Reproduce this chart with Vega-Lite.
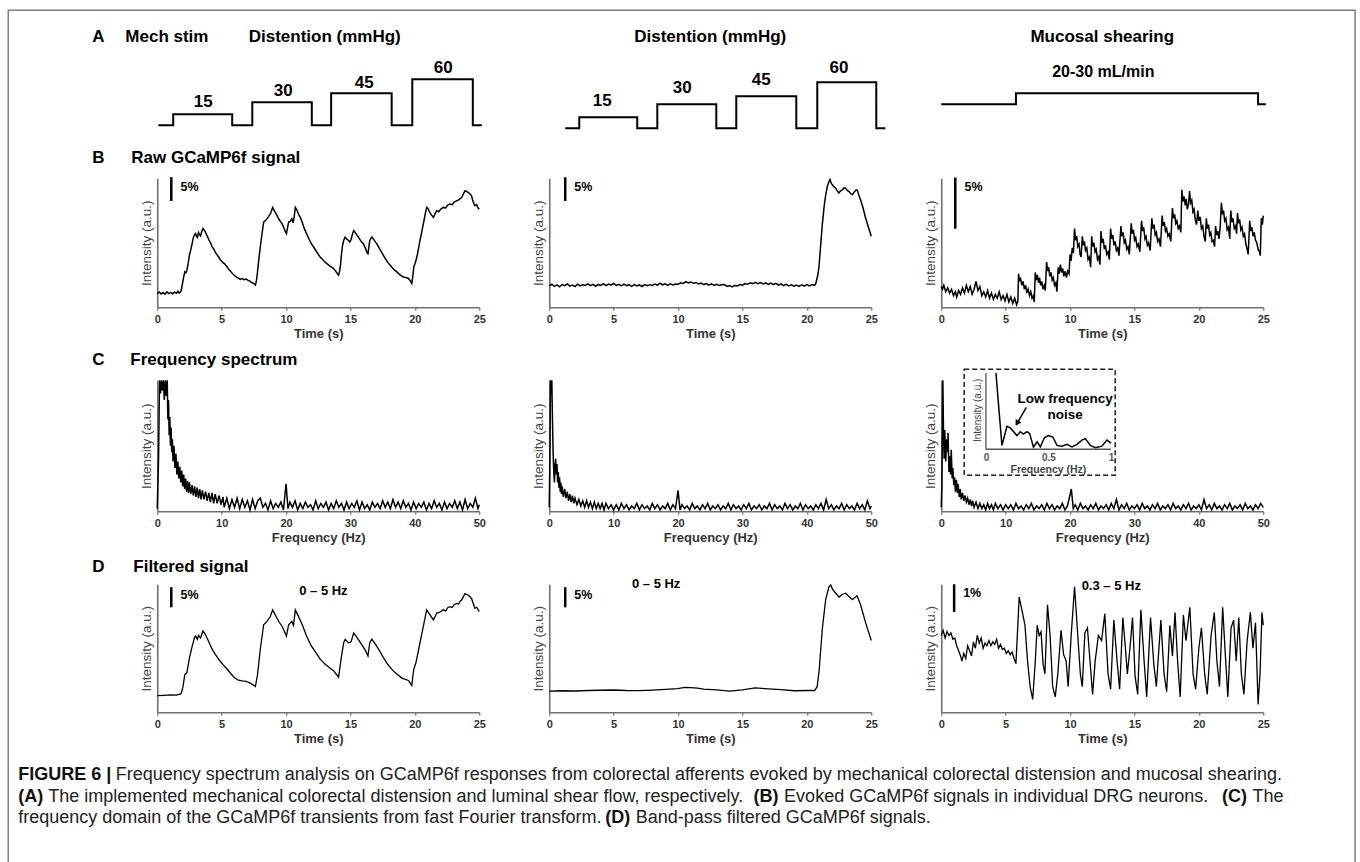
{
"$schema": "https://vega.github.io/schema/vega-lite/v6.json",
"background": "white",
"padding": {"left": 7.25, "top": 9.25, "right": 0, "bottom": 0},
"bounds": "flush",
"align": "each",
"columns": 3,
"spacing": {"row": 73, "column": 70},
"config": {
  "font": "Liberation Sans",
  "view": {"stroke": null},
  "axis": {"domainColor": "#707070", "domainWidth": 1.6, "tickColor": "#707070", "tickWidth": 1.2, "tickSize": 3, "labelFont": "Liberation Sans", "labelFontSize": 11, "labelFontWeight": "bold", "labelColor": "#333333", "titleFont": "Liberation Sans", "titleFontSize": 13, "titleFontWeight": "bold", "titleColor": "#333333", "grid": false, "labelPadding": 3, "titlePadding": 3, "labelFlush": false},
  "text": {"font": "Liberation Sans", "color": "black"}
},
"datasets": {
"frame": [{"x": -11.57, "x2": 93.0, "y": 118, "y2": -745}],
"stim": [
{"p":"A1","x":0.08,"y":3},{"p":"A1","x":1.24,"y":14},{"p":"A1","x":5.82,"y":3},{"p":"A1","x":7.38,"y":26},{"p":"A1","x":12.0,"y":3},{"p":"A1","x":13.5,"y":35},{"p":"A1","x":18.2,"y":3},{"p":"A1","x":19.8,"y":49},{"p":"A1","x":24.5,"y":3},{"p":"A1","x":25.2,"y":3},
{"p":"A2","x":1.24,"y":0},{"p":"A2","x":2.33,"y":11},{"p":"A2","x":6.83,"y":0},{"p":"A2","x":8.39,"y":24},{"p":"A2","x":12.97,"y":0},{"p":"A2","x":14.52,"y":32},{"p":"A2","x":19.18,"y":0},{"p":"A2","x":20.81,"y":46},{"p":"A2","x":25.39,"y":0},{"p":"A2","x":26.1,"y":0},
{"p":"A3","x":0,"y":24},{"p":"A3","x":5.8,"y":35},{"p":"A3","x":24.6,"y":24},{"p":"A3","x":25.2,"y":24}
],
"notes": [
{"p":"A1","k":"head","x":-5.05,"y":91,"s":"A"},{"p":"A1","k":"head","x":-2.48,"y":91,"s":"Mech stim"},{"p":"A1","k":"headc","x":13.0,"y":91,"s":"Distention (mmHg)"},
{"p":"A1","k":"step","x":3.57,"y":26,"s":"15"},{"p":"A1","k":"step","x":9.78,"y":37,"s":"30"},{"p":"A1","k":"step","x":16.07,"y":45,"s":"45"},{"p":"A1","k":"step","x":22.2,"y":60,"s":"60"},
{"p":"A2","k":"headc","x":12.5,"y":91,"s":"Distention (mmHg)"},
{"p":"A2","k":"step","x":4.11,"y":27,"s":"15"},{"p":"A2","k":"step","x":10.33,"y":40,"s":"30"},{"p":"A2","k":"step","x":16.46,"y":48,"s":"45"},{"p":"A2","k":"step","x":22.5,"y":60,"s":"60"},
{"p":"A3","k":"headc","x":12.5,"y":91,"s":"Mucosal shearing"},{"p":"A3","k":"step","x":12.58,"y":56,"s":"20-30 mL/min"},
{"p":"B1","k":"head","x":-5.05,"y":116,"s":"B"},{"p":"B1","k":"head","x":-2.02,"y":116,"s":"Raw GCaMP6f signal"},{"p":"B1","k":"scale","x":1.8,"y":93,"s":"5%"},
{"p":"B2","k":"scale","x":1.95,"y":93,"s":"5%"},
{"p":"B3","k":"scale","x":1.8,"y":93,"s":"5%"},
{"p":"C1","k":"head","x":-10.09,"y":115.3,"s":"C"},{"p":"C1","k":"head","x":-4.19,"y":115.3,"s":"Frequency spectrum"},
{"p":"D1","k":"head","x":-5.05,"y":113.3,"s":"D"},{"p":"D1","k":"head","x":-1.86,"y":113.3,"s":"Filtered signal"},{"p":"D1","k":"scale","x":1.8,"y":91.4,"s":"5%"},{"p":"D1","k":"band","x":12.9,"y":94.5,"s":"0 – 5 Hz"},
{"p":"D2","k":"scale","x":1.95,"y":91.4,"s":"5%"},{"p":"D2","k":"band","x":8.3,"y":100,"s":"0 – 5 Hz"},
{"p":"D3","k":"scale","x":1.7,"y":93,"s":"1%"},{"p":"D3","k":"band","x":13.2,"y":99,"s":"0.3 – 5 Hz"}
],
"bars": [
{"p":"B1","x":1.09,"y":100.8,"y2":82.4},{"p":"B2","x":1.24,"y":100.8,"y2":82.4},{"p":"B3","x":1.09,"y":100.5,"y2":60.9},
{"p":"D1","x":1.09,"y":97.7,"y2":82},{"p":"D2","x":1.24,"y":97.7,"y2":82},{"p":"D3","x":1.0,"y":100,"y2":78.4}
],
"b1": [
{"x":0,"y":10.5},{"x":0.15,"y":11.8},{"x":0.3,"y":10.3},{"x":0.45,"y":11.4},{"x":0.6,"y":10.1},{"x":0.75,"y":11.9},{"x":0.9,"y":10.6},{"x":1.05,"y":11.5},{"x":1.2,"y":10.4},{"x":1.35,"y":11.7},{"x":1.5,"y":10.9},{"x":1.6,"y":12.4},{"x":1.7,"y":11.0},{"x":1.8,"y":11.6},{"x":1.88,"y":14.0},{"x":1.98,"y":19.5},{"x":2.06,"y":24.0},{"x":2.14,"y":27.5},{"x":2.22,"y":26.8},{"x":2.3,"y":28.5},{"x":2.4,"y":34.0},{"x":2.5,"y":40.5},{"x":2.6,"y":44.5},{"x":2.7,"y":49.0},{"x":2.8,"y":54.0},{"x":2.88,"y":56.0},{"x":2.97,"y":57.2},{"x":3.05,"y":55.0},{"x":3.12,"y":54.2},{"x":3.2,"y":58.0},{"x":3.28,"y":56.4},{"x":3.36,"y":55.3},{"x":3.45,"y":58.5},{"x":3.55,"y":61.0},{"x":3.65,"y":59.8},{"x":3.75,"y":58.0},{"x":3.87,"y":55.4},{"x":4.0,"y":52.5},{"x":4.13,"y":50.0},{"x":4.26,"y":46.8},{"x":4.4,"y":45.0},{"x":4.52,"y":42.3},{"x":4.65,"y":40.6},{"x":4.8,"y":38.4},{"x":4.95,"y":36.2},{"x":5.1,"y":34.6},{"x":5.25,"y":33.5},{"x":5.4,"y":31.6},{"x":5.55,"y":29.4},{"x":5.7,"y":27.8},{"x":5.85,"y":26.0},{"x":6.0,"y":24.6},{"x":6.15,"y":23.4},{"x":6.3,"y":22.6},{"x":6.45,"y":21.6},{"x":6.6,"y":22.2},{"x":6.75,"y":21.4},{"x":6.9,"y":21.9},{"x":7.05,"y":20.8},{"x":7.2,"y":20.3},{"x":7.35,"y":19.0},{"x":7.5,"y":18.5},{"x":7.62,"y":17.2},{"x":7.7,"y":20.5},{"x":7.78,"y":27.0},{"x":7.88,"y":36.5},{"x":8.0,"y":46.7},{"x":8.12,"y":56.0},{"x":8.26,"y":65.9},{"x":8.4,"y":67.2},{"x":8.52,"y":68.5},{"x":8.65,"y":70.4},{"x":8.78,"y":72.3},{"x":8.88,"y":75.0},{"x":8.96,"y":77.4},{"x":9.05,"y":75.6},{"x":9.15,"y":73.8},{"x":9.3,"y":71.0},{"x":9.45,"y":68.2},{"x":9.58,"y":66.2},{"x":9.7,"y":64.6},{"x":9.85,"y":61.0},{"x":9.95,"y":58.5},{"x":10.03,"y":57.0},{"x":10.12,"y":62.0},{"x":10.2,"y":65.9},{"x":10.33,"y":66.5},{"x":10.45,"y":68.5},{"x":10.55,"y":65.5},{"x":10.63,"y":70.0},{"x":10.72,"y":77.4},{"x":10.85,"y":75.2},{"x":10.98,"y":72.0},{"x":11.1,"y":69.7},{"x":11.25,"y":66.0},{"x":11.4,"y":61.5},{"x":11.6,"y":56.9},{"x":11.8,"y":52.5},{"x":11.95,"y":49.5},{"x":12.14,"y":46.7},{"x":12.3,"y":44.2},{"x":12.5,"y":41.0},{"x":12.65,"y":39.0},{"x":12.8,"y":37.4},{"x":13.0,"y":35.3},{"x":13.17,"y":33.8},{"x":13.35,"y":32.4},{"x":13.5,"y":31.2},{"x":13.69,"y":30.0},{"x":13.85,"y":28.0},{"x":13.98,"y":26.2},{"x":14.08,"y":24.9},{"x":14.16,"y":28.0},{"x":14.22,"y":32.0},{"x":14.3,"y":41.0},{"x":14.38,"y":47.5},{"x":14.48,"y":52.0},{"x":14.59,"y":54.4},{"x":14.7,"y":53.0},{"x":14.85,"y":51.8},{"x":14.95,"y":50.6},{"x":15.05,"y":52.5},{"x":15.15,"y":56.5},{"x":15.25,"y":59.5},{"x":15.35,"y":58.2},{"x":15.5,"y":56.0},{"x":15.62,"y":54.4},{"x":15.8,"y":51.5},{"x":16.0,"y":49.2},{"x":16.15,"y":46.0},{"x":16.3,"y":42.0},{"x":16.36,"y":41.5},{"x":16.42,"y":46.0},{"x":16.5,"y":51.8},{"x":16.6,"y":53.5},{"x":16.66,"y":54.4},{"x":16.8,"y":52.6},{"x":16.95,"y":50.5},{"x":17.05,"y":49.2},{"x":17.2,"y":46.5},{"x":17.4,"y":43.0},{"x":17.56,"y":40.2},{"x":17.75,"y":37.0},{"x":17.9,"y":34.8},{"x":18.08,"y":32.5},{"x":18.3,"y":30.0},{"x":18.45,"y":28.6},{"x":18.6,"y":27.4},{"x":18.8,"y":25.5},{"x":19.0,"y":24.2},{"x":19.11,"y":23.5},{"x":19.3,"y":23.0},{"x":19.5,"y":22.3},{"x":19.65,"y":20.5},{"x":19.76,"y":18.5},{"x":19.84,"y":24.0},{"x":19.92,"y":31.3},{"x":20.0,"y":33.5},{"x":20.09,"y":36.4},{"x":20.2,"y":41.0},{"x":20.3,"y":46.5},{"x":20.4,"y":51.8},{"x":20.52,"y":57.5},{"x":20.62,"y":62.8},{"x":20.71,"y":67.2},{"x":20.8,"y":72.0},{"x":20.92,"y":77.4},{"x":21.02,"y":76.5},{"x":21.1,"y":74.8},{"x":21.2,"y":73.0},{"x":21.3,"y":71.4},{"x":21.44,"y":69.7},{"x":21.55,"y":72.0},{"x":21.69,"y":74.8},{"x":21.85,"y":74.0},{"x":22.0,"y":76.0},{"x":22.21,"y":77.4},{"x":22.4,"y":77.0},{"x":22.55,"y":79.2},{"x":22.73,"y":80.0},{"x":22.9,"y":79.5},{"x":23.05,"y":81.5},{"x":23.24,"y":82.5},{"x":23.4,"y":83.2},{"x":23.52,"y":84.2},{"x":23.63,"y":85.1},{"x":23.75,"y":87.5},{"x":23.89,"y":90.2},{"x":24.0,"y":90.0},{"x":24.15,"y":88.9},{"x":24.28,"y":88.0},{"x":24.4,"y":86.4},{"x":24.52,"y":82.0},{"x":24.66,"y":78.7},{"x":24.8,"y":79.5},{"x":24.9,"y":77.0},{"x":25.0,"y":76.1}
],
"d1": [
{"x":0,"y":13},{"x":0.5,"y":13.2},{"x":1.0,"y":13.5},{"x":1.5,"y":13.4},{"x":1.85,"y":14.5},{"x":2.0,"y":20},{"x":2.14,"y":29.5},{"x":2.3,"y":31},{"x":2.5,"y":42.5},{"x":2.7,"y":51},{"x":2.88,"y":58},{"x":2.97,"y":59.5},{"x":3.12,"y":57},{"x":3.2,"y":60},{"x":3.36,"y":58},{"x":3.55,"y":63.5},{"x":3.75,"y":60.5},{"x":4.0,"y":55},{"x":4.26,"y":49.3},{"x":4.52,"y":45},{"x":4.8,"y":41},{"x":5.1,"y":37.2},{"x":5.4,"y":34},{"x":5.7,"y":30.3},{"x":6.0,"y":27},{"x":6.3,"y":25},{"x":6.6,"y":24.5},{"x":6.9,"y":24.2},{"x":7.2,"y":22.8},{"x":7.5,"y":21},{"x":7.62,"y":20},{"x":7.78,"y":29},{"x":8.0,"y":49},{"x":8.26,"y":68.4},{"x":8.52,"y":71},{"x":8.78,"y":74.8},{"x":8.96,"y":80},{"x":9.15,"y":76.3},{"x":9.45,"y":70.7},{"x":9.7,"y":67},{"x":9.9,"y":62.5},{"x":10.03,"y":59.5},{"x":10.2,"y":68.4},{"x":10.45,"y":71},{"x":10.58,"y":68},{"x":10.72,"y":80},{"x":10.98,"y":74.5},{"x":11.25,"y":68.5},{"x":11.6,"y":59.4},{"x":11.95,"y":52},{"x":12.3,"y":46.7},{"x":12.65,"y":41.5},{"x":13.0,"y":37.8},{"x":13.35,"y":34.9},{"x":13.69,"y":32.5},{"x":13.98,"y":28.7},{"x":14.08,"y":27.4},{"x":14.3,"y":43.5},{"x":14.48,"y":54.5},{"x":14.59,"y":57},{"x":14.85,"y":54.3},{"x":15.05,"y":55},{"x":15.25,"y":62},{"x":15.5,"y":58.5},{"x":15.8,"y":54},{"x":16.15,"y":48.5},{"x":16.36,"y":44},{"x":16.5,"y":54.3},{"x":16.66,"y":57},{"x":16.95,"y":53},{"x":17.2,"y":49},{"x":17.56,"y":42.7},{"x":17.9,"y":37.3},{"x":18.3,"y":32.5},{"x":18.6,"y":29.9},{"x":19.0,"y":26.7},{"x":19.5,"y":24.8},{"x":19.76,"y":21},{"x":19.92,"y":33.8},{"x":20.09,"y":38.9},{"x":20.4,"y":54.3},{"x":20.71,"y":69.7},{"x":20.92,"y":80},{"x":21.1,"y":77.3},{"x":21.44,"y":72.2},{"x":21.69,"y":77.3},{"x":22.0,"y":78.5},{"x":22.21,"y":80},{"x":22.4,"y":79.2},{"x":22.55,"y":81.7},{"x":22.73,"y":82.5},{"x":22.9,"y":81.8},{"x":23.05,"y":84},{"x":23.24,"y":85},{"x":23.4,"y":84.6},{"x":23.52,"y":86.7},{"x":23.63,"y":87.6},{"x":23.89,"y":92.7},{"x":24.15,"y":91.4},{"x":24.4,"y":88.9},{"x":24.66,"y":81.2},{"x":24.8,"y":82},{"x":25.0,"y":78.6}
],
"b2": [
{"x":0,"y":16.5},{"x":0.2,"y":17.8},{"x":0.4,"y":16.2},{"x":0.6,"y":17.4},{"x":0.8,"y":15.9},{"x":1.0,"y":17.6},{"x":1.2,"y":16.8},{"x":1.4,"y":18.0},{"x":1.6,"y":16.4},{"x":1.8,"y":17.2},{"x":2.0,"y":16.0},{"x":2.2,"y":17.9},{"x":2.4,"y":16.6},{"x":2.6,"y":17.5},{"x":2.8,"y":16.9},{"x":3.0,"y":18.1},{"x":3.2,"y":16.7},{"x":3.4,"y":17.8},{"x":3.6,"y":16.3},{"x":3.8,"y":17.6},{"x":4.0,"y":17.0},{"x":4.2,"y":18.3},{"x":4.4,"y":16.8},{"x":4.6,"y":18.0},{"x":4.8,"y":17.1},{"x":5.0,"y":18.4},{"x":5.2,"y":16.9},{"x":5.4,"y":17.7},{"x":5.6,"y":16.5},{"x":5.8,"y":17.9},{"x":6.0,"y":16.8},{"x":6.2,"y":17.4},{"x":6.4,"y":16.2},{"x":6.6,"y":17.5},{"x":6.8,"y":16.6},{"x":7.0,"y":17.3},{"x":7.2,"y":16.1},{"x":7.4,"y":17.6},{"x":7.6,"y":16.7},{"x":7.8,"y":17.5},{"x":8.0,"y":16.9},{"x":8.2,"y":18.0},{"x":8.4,"y":17.2},{"x":8.6,"y":18.6},{"x":8.8,"y":17.4},{"x":9.0,"y":18.2},{"x":9.2,"y":17.0},{"x":9.4,"y":18.1},{"x":9.6,"y":17.3},{"x":9.8,"y":18.0},{"x":10.0,"y":17.9},{"x":10.2,"y":19.0},{"x":10.4,"y":18.4},{"x":10.6,"y":19.8},{"x":10.8,"y":18.9},{"x":11.0,"y":19.6},{"x":11.2,"y":18.5},{"x":11.4,"y":19.2},{"x":11.6,"y":18.0},{"x":11.8,"y":18.8},{"x":12.0,"y":17.6},{"x":12.2,"y":18.4},{"x":12.4,"y":17.2},{"x":12.6,"y":18.1},{"x":12.8,"y":17.0},{"x":13.0,"y":17.8},{"x":13.2,"y":16.9},{"x":13.4,"y":17.4},{"x":13.6,"y":17.6},{"x":13.8,"y":16.2},{"x":14.0,"y":16.8},{"x":14.2,"y":15.8},{"x":14.4,"y":16.9},{"x":14.6,"y":16.5},{"x":14.8,"y":17.6},{"x":15.0,"y":17.1},{"x":15.2,"y":18.4},{"x":15.4,"y":17.8},{"x":15.6,"y":19.0},{"x":15.8,"y":18.2},{"x":16.0,"y":19.3},{"x":16.2,"y":18.3},{"x":16.4,"y":19.1},{"x":16.6,"y":18.0},{"x":16.8,"y":18.9},{"x":17.0,"y":17.8},{"x":17.2,"y":18.7},{"x":17.4,"y":17.6},{"x":17.6,"y":18.5},{"x":17.8,"y":17.2},{"x":18.0,"y":18.1},{"x":18.2,"y":16.8},{"x":18.4,"y":17.7},{"x":18.6,"y":16.5},{"x":18.8,"y":17.4},{"x":19.0,"y":16.3},{"x":19.2,"y":17.2},{"x":19.4,"y":16.1},{"x":19.6,"y":17.3},{"x":19.8,"y":16.4},{"x":20.0,"y":17.5},{"x":20.2,"y":16.6},{"x":20.4,"y":17.6},{"x":20.6,"y":17.0},{"x":20.7,"y":18.5},{"x":20.85,"y":25},{"x":20.94,"y":31},{"x":21.07,"y":48},{"x":21.2,"y":64},{"x":21.33,"y":77},{"x":21.46,"y":87},{"x":21.6,"y":94},{"x":21.72,"y":97.4},{"x":21.8,"y":99},{"x":21.9,"y":96},{"x":21.98,"y":95},{"x":22.1,"y":93.5},{"x":22.24,"y":92.3},{"x":22.37,"y":90},{"x":22.49,"y":88.5},{"x":22.6,"y":90},{"x":22.75,"y":91},{"x":22.88,"y":92.5},{"x":23.01,"y":92.3},{"x":23.14,"y":90.5},{"x":23.27,"y":89.7},{"x":23.4,"y":88.2},{"x":23.53,"y":87.2},{"x":23.7,"y":89.5},{"x":23.83,"y":91},{"x":23.91,"y":90.8},{"x":24.05,"y":86.5},{"x":24.17,"y":83.3},{"x":24.35,"y":77.5},{"x":24.56,"y":69.2},{"x":24.78,"y":62},{"x":25.0,"y":55.1}
],
"d2": [
{"x":0,"y":16.5},{"x":1,"y":16.8},{"x":2,"y":16.6},{"x":3,"y":17.0},{"x":4,"y":17.2},{"x":5,"y":17.4},{"x":6,"y":17.0},{"x":7,"y":16.9},{"x":8,"y":17.3},{"x":9,"y":17.8},{"x":10,"y":18.4},{"x":10.5,"y":19.5},{"x":11,"y":19.2},{"x":11.5,"y":18.8},{"x":12,"y":18.0},{"x":13,"y":17.5},{"x":14,"y":16.5},{"x":15,"y":17.4},{"x":15.5,"y":18.2},{"x":16,"y":19.0},{"x":16.5,"y":18.6},{"x":17,"y":18.3},{"x":18,"y":17.6},{"x":19,"y":16.8},{"x":20,"y":17.0},{"x":20.6,"y":17.0},{"x":20.8,"y":20},{"x":20.95,"y":32},{"x":21.2,"y":65},{"x":21.46,"y":88},{"x":21.72,"y":98},{"x":21.85,"y":99.5},{"x":22.0,"y":96},{"x":22.24,"y":93},{"x":22.5,"y":90},{"x":22.75,"y":92},{"x":23.0,"y":93},{"x":23.27,"y":90.5},{"x":23.53,"y":88},{"x":23.9,"y":91},{"x":24.17,"y":84},{"x":24.56,"y":70},{"x":25.0,"y":56}
],
"b3": [
{"x":0,"y":16},{"x":0.1,"y":14},{"x":0.2,"y":17},{"x":0.35,"y":12},{"x":0.5,"y":15},{"x":0.65,"y":11},{"x":0.8,"y":14},{"x":0.95,"y":9},{"x":1.1,"y":12},{"x":1.2,"y":8},{"x":1.35,"y":13},{"x":1.5,"y":10},{"x":1.65,"y":15},{"x":1.8,"y":11},{"x":1.95,"y":17},{"x":2.1,"y":12},{"x":2.25,"y":16},{"x":2.4,"y":10},{"x":2.55,"y":14},{"x":2.7,"y":20},{"x":2.85,"y":13},{"x":3.0,"y":16},{"x":3.15,"y":9},{"x":3.3,"y":12},{"x":3.45,"y":8},{"x":3.6,"y":13},{"x":3.75,"y":7},{"x":3.9,"y":11},{"x":4.05,"y":6},{"x":4.2,"y":10},{"x":4.35,"y":7},{"x":4.5,"y":12},{"x":4.65,"y":6},{"x":4.8,"y":9},{"x":4.95,"y":5},{"x":5.1,"y":10},{"x":5.25,"y":4},{"x":5.4,"y":8},{"x":5.55,"y":3},{"x":5.7,"y":7},{"x":5.85,"y":2},{"x":5.95,"y":5},
{"x":6.0,"y":26},{"x":6.08,"y":20},{"x":6.15,"y":23},{"x":6.25,"y":17},{"x":6.35,"y":20},{"x":6.45,"y":14},{"x":6.55,"y":17},{"x":6.65,"y":11},{"x":6.75,"y":14},{"x":6.85,"y":9},{"x":6.95,"y":12},{"x":7.05,"y":7},{"x":7.15,"y":9},{"x":7.22,"y":4},
{"x":7.3,"y":27},{"x":7.38,"y":21},{"x":7.46,"y":25},{"x":7.55,"y":19},{"x":7.63,"y":23},{"x":7.72,"y":17},{"x":7.8,"y":20},{"x":7.9,"y":14},{"x":8.0,"y":17},{"x":8.08,"y":13},
{"x":8.18,"y":35},{"x":8.26,"y":28},{"x":8.34,"y":31},{"x":8.43,"y":24},{"x":8.52,"y":27},{"x":8.61,"y":21},{"x":8.7,"y":23},{"x":8.8,"y":17},{"x":8.9,"y":19},{"x":8.98,"y":12},
{"x":9.08,"y":31},{"x":9.16,"y":26},{"x":9.25,"y":33},{"x":9.34,"y":27},{"x":9.43,"y":30},{"x":9.52,"y":24},{"x":9.62,"y":28},{"x":9.72,"y":23},{"x":9.82,"y":28},{"x":9.92,"y":26},
{"x":10.0,"y":41},{"x":10.08,"y":36},{"x":10.17,"y":46},{"x":10.26,"y":42},{"x":10.35,"y":61},{"x":10.43,"y":52},{"x":10.52,"y":55},{"x":10.6,"y":47},{"x":10.7,"y":49},{"x":10.78,"y":41},{"x":10.86,"y":39},
{"x":10.95,"y":55},{"x":11.03,"y":48},{"x":11.12,"y":51},{"x":11.2,"y":44},{"x":11.3,"y":46},{"x":11.4,"y":37},{"x":11.5,"y":39},{"x":11.6,"y":31},
{"x":11.68,"y":55},{"x":11.76,"y":47},{"x":11.85,"y":50},{"x":11.94,"y":43},{"x":12.03,"y":45},{"x":12.13,"y":37},{"x":12.22,"y":39},{"x":12.32,"y":33},
{"x":12.4,"y":59},{"x":12.48,"y":50},{"x":12.57,"y":53},{"x":12.66,"y":45},{"x":12.75,"y":48},{"x":12.85,"y":41},{"x":12.95,"y":43},{"x":13.05,"y":37},
{"x":13.15,"y":61},{"x":13.23,"y":53},{"x":13.32,"y":56},{"x":13.41,"y":48},{"x":13.5,"y":51},{"x":13.6,"y":44},{"x":13.7,"y":46},{"x":13.8,"y":40},
{"x":13.95,"y":63},{"x":14.03,"y":55},{"x":14.12,"y":58},{"x":14.21,"y":50},{"x":14.3,"y":52},{"x":14.4,"y":45},{"x":14.5,"y":47},{"x":14.6,"y":41},
{"x":14.75,"y":65},{"x":14.83,"y":57},{"x":14.92,"y":60},{"x":15.01,"y":52},{"x":15.1,"y":54},{"x":15.2,"y":47},{"x":15.3,"y":49},{"x":15.42,"y":43},
{"x":15.55,"y":67},{"x":15.63,"y":59},{"x":15.72,"y":62},{"x":15.81,"y":53},{"x":15.9,"y":55},{"x":16.0,"y":48},{"x":16.1,"y":50},{"x":16.22,"y":44},
{"x":16.35,"y":69},{"x":16.43,"y":61},{"x":16.52,"y":64},{"x":16.61,"y":56},{"x":16.7,"y":58},{"x":16.8,"y":51},{"x":16.9,"y":53},{"x":17.02,"y":47},
{"x":17.15,"y":71},{"x":17.23,"y":63},{"x":17.32,"y":66},{"x":17.41,"y":59},{"x":17.5,"y":61},{"x":17.6,"y":55},{"x":17.7,"y":57},{"x":17.82,"y":51},
{"x":17.95,"y":77},{"x":18.03,"y":69},{"x":18.12,"y":72},{"x":18.21,"y":65},{"x":18.3,"y":67},{"x":18.4,"y":61},{"x":18.5,"y":63},{"x":18.6,"y":58},
{"x":18.68,"y":91},{"x":18.76,"y":82},{"x":18.85,"y":86},{"x":18.94,"y":79},{"x":19.02,"y":84},{"x":19.1,"y":76},{"x":19.2,"y":80},{"x":19.28,"y":90},{"x":19.36,"y":81},{"x":19.45,"y":83},{"x":19.54,"y":74},{"x":19.63,"y":76},{"x":19.72,"y":68},{"x":19.82,"y":64},
{"x":19.92,"y":75},{"x":20.0,"y":67},{"x":20.1,"y":70},{"x":20.2,"y":61},{"x":20.3,"y":63},{"x":20.4,"y":55},{"x":20.5,"y":51},
{"x":20.58,"y":69},{"x":20.66,"y":61},{"x":20.75,"y":64},{"x":20.84,"y":56},{"x":20.93,"y":58},{"x":21.02,"y":51},{"x":21.12,"y":52},{"x":21.22,"y":47},
{"x":21.3,"y":63},{"x":21.38,"y":56},{"x":21.47,"y":59},{"x":21.56,"y":53},{"x":21.65,"y":61},{"x":21.75,"y":81},{"x":21.83,"y":72},{"x":21.92,"y":75},{"x":22.0,"y":67},{"x":22.1,"y":69},{"x":22.2,"y":60},{"x":22.3,"y":62},{"x":22.4,"y":53},
{"x":22.48,"y":75},{"x":22.56,"y":66},{"x":22.65,"y":69},{"x":22.75,"y":61},{"x":22.85,"y":63},{"x":22.93,"y":57},
{"x":23.0,"y":73},{"x":23.08,"y":65},{"x":23.17,"y":68},{"x":23.26,"y":60},{"x":23.35,"y":62},{"x":23.45,"y":55},{"x":23.55,"y":57},{"x":23.65,"y":49},{"x":23.75,"y":45},{"x":23.83,"y":41},
{"x":23.95,"y":67},{"x":24.03,"y":59},{"x":24.12,"y":62},{"x":24.21,"y":55},{"x":24.3,"y":58},{"x":24.4,"y":52},{"x":24.5,"y":50},{"x":24.6,"y":45},{"x":24.7,"y":43},{"x":24.77,"y":40},
{"x":24.85,"y":69},{"x":24.93,"y":64},{"x":25.0,"y":71}
],
"d3": [
{"x":0,"y":60},{"x":0.15,"y":64},{"x":0.3,"y":58},{"x":0.45,"y":63},{"x":0.6,"y":60},{"x":0.75,"y":62},{"x":0.9,"y":57},{"x":1.05,"y":58},{"x":1.2,"y":52},{"x":1.35,"y":48},{"x":1.5,"y":44},{"x":1.6,"y":40},{"x":1.75,"y":46},{"x":1.9,"y":42},{"x":2.05,"y":52},{"x":2.2,"y":48},{"x":2.35,"y":44},{"x":2.5,"y":55},{"x":2.65,"y":50},{"x":2.8,"y":60},{"x":2.95,"y":54},{"x":3.1,"y":58},{"x":3.25,"y":50},{"x":3.4,"y":54},{"x":3.55,"y":52},{"x":3.7,"y":56},{"x":3.85,"y":52},{"x":4.0,"y":55},{"x":4.15,"y":53},{"x":4.3,"y":57},{"x":4.45,"y":50},{"x":4.6,"y":53},{"x":4.75,"y":49},{"x":4.9,"y":50},{"x":5.05,"y":46},{"x":5.2,"y":48},{"x":5.35,"y":45},{"x":5.5,"y":47},{"x":5.65,"y":42},{"x":5.8,"y":38},{"x":6.05,"y":90},{"x":6.3,"y":78},{"x":6.5,"y":68},{"x":6.7,"y":40},{"x":6.9,"y":20},{"x":7.1,"y":10},{"x":7.3,"y":40},{"x":7.45,"y":68},{"x":7.6,"y":60},{"x":7.75,"y":63},{"x":7.9,"y":38},{"x":8.05,"y":30},{"x":8.25,"y":84},{"x":8.45,"y":60},{"x":8.65,"y":20},{"x":8.85,"y":12},{"x":9.05,"y":30},{"x":9.3,"y":64},{"x":9.5,"y":45},{"x":9.7,"y":40},{"x":9.85,"y":20},{"x":10.1,"y":62},{"x":10.35,"y":98},{"x":10.6,"y":60},{"x":10.8,"y":30},{"x":10.95,"y":20},{"x":11.15,"y":62},{"x":11.35,"y":66},{"x":11.55,"y":40},{"x":11.75,"y":14},{"x":11.95,"y":40},{"x":12.2,"y":60},{"x":12.45,"y":56},{"x":12.7,"y":77},{"x":12.95,"y":30},{"x":13.15,"y":18},{"x":13.4,"y":72},{"x":13.65,"y":40},{"x":13.85,"y":18},{"x":14.1,"y":74},{"x":14.3,"y":50},{"x":14.45,"y":30},{"x":14.65,"y":50},{"x":14.85,"y":74},{"x":15.05,"y":28},{"x":15.25,"y":14},{"x":15.5,"y":80},{"x":15.75,"y":40},{"x":15.95,"y":12},{"x":16.25,"y":74},{"x":16.5,"y":38},{"x":16.7,"y":20},{"x":17.05,"y":72},{"x":17.3,"y":30},{"x":17.5,"y":16},{"x":17.75,"y":68},{"x":17.95,"y":44},{"x":18.15,"y":78},{"x":18.35,"y":40},{"x":18.55,"y":12},{"x":18.8,"y":76},{"x":19.0,"y":56},{"x":19.3,"y":82},{"x":19.55,"y":30},{"x":19.75,"y":18},{"x":20.0,"y":50},{"x":20.2,"y":66},{"x":20.45,"y":30},{"x":20.65,"y":14},{"x":20.95,"y":60},{"x":21.2,"y":78},{"x":21.4,"y":40},{"x":21.6,"y":20},{"x":21.85,"y":82},{"x":22.05,"y":46},{"x":22.25,"y":12},{"x":22.5,"y":66},{"x":22.7,"y":72},{"x":22.9,"y":40},{"x":23.1,"y":74},{"x":23.3,"y":30},{"x":23.5,"y":14},{"x":23.75,"y":56},{"x":24.0,"y":78},{"x":24.2,"y":50},{"x":24.4,"y":70},{"x":24.6,"y":6},{"x":24.75,"y":30},{"x":24.9,"y":78},{"x":25.0,"y":68}
],
"c1": [
{"x":0,"y":2},{"x":0.2,"y":40},{"x":0.35,"y":100},{"x":0.5,"y":90},{"x":0.65,"y":100},{"x":0.8,"y":92},{"x":0.95,"y":100},{"x":1.1,"y":85},{"x":1.25,"y":100},{"x":1.4,"y":88},{"x":1.55,"y":100},{"x":1.65,"y":70},{"x":1.75,"y":85},{"x":1.85,"y":58},{"x":1.95,"y":72},{"x":2.05,"y":50},{"x":2.15,"y":64},{"x":2.25,"y":45},{"x":2.35,"y":55},{"x":2.45,"y":38},{"x":2.6,"y":50},{"x":2.75,"y":33},{"x":2.9,"y":44},{"x":3.05,"y":28},{"x":3.2,"y":38},{"x":3.35,"y":25},{"x":3.5,"y":34},{"x":3.65,"y":22},{"x":3.8,"y":31},{"x":3.95,"y":19},{"x":4.1,"y":28},{"x":4.25,"y":17},{"x":4.4,"y":25},{"x":4.55,"y":15},{"x":4.7,"y":23},{"x":4.85,"y":14},{"x":5.0,"y":22},{"x":5.2,"y":13},{"x":5.4,"y":20},{"x":5.6,"y":12},{"x":5.8,"y":19},{"x":6.0,"y":11},{"x":6.2,"y":18},{"x":6.4,"y":10},{"x":6.6,"y":17},{"x":6.8,"y":9},{"x":7.0,"y":16},{"x":7.25,"y":9},{"x":7.5,"y":15},{"x":7.75,"y":8},{"x":8.0,"y":14},{"x":8.25,"y":7},{"x":8.5,"y":14},{"x":8.75,"y":6},{"x":9.0,"y":13},{"x":9.3,"y":6},{"x":9.6,"y":12},{"x":9.9,"y":5},{"x":10.2,"y":11},{"x":10.4,"y":3},{"x":10.8,"y":10},{"x":11.2,"y":2},{"x":11.6,"y":9},{"x":12.0,"y":3},{"x":12.4,"y":10},{"x":12.8,"y":2},{"x":13.2,"y":9},{"x":13.6,"y":3},{"x":14.0,"y":8},{"x":14.4,"y":1},{"x":14.8,"y":9},{"x":15.2,"y":2},{"x":15.6,"y":8},{"x":16.0,"y":10},{"x":16.4,"y":3},{"x":16.8,"y":6},{"x":17.2,"y":1},{"x":17.6,"y":8},{"x":18.0,"y":2},{"x":18.4,"y":6},{"x":18.8,"y":3},{"x":19.2,"y":7},{"x":19.6,"y":1},{"x":20.0,"y":21},{"x":20.3,"y":2},{"x":20.6,"y":7},{"x":21.0,"y":3},{"x":21.4,"y":8},{"x":21.8,"y":1},{"x":22.2,"y":6},{"x":22.6,"y":2},{"x":23.0,"y":7},{"x":23.4,"y":3},{"x":23.8,"y":5},{"x":24.2,"y":1},{"x":24.6,"y":8},{"x":25.0,"y":2},{"x":25.4,"y":6},{"x":25.8,"y":3},{"x":26.2,"y":7},{"x":26.6,"y":1},{"x":27.0,"y":6},{"x":27.4,"y":2},{"x":27.8,"y":8},{"x":28.2,"y":3},{"x":28.6,"y":6},{"x":29.0,"y":1},{"x":29.4,"y":7},{"x":29.8,"y":2},{"x":30.2,"y":6},{"x":30.6,"y":3},{"x":31.0,"y":8},{"x":31.4,"y":1},{"x":31.8,"y":7},{"x":32.2,"y":2},{"x":32.6,"y":5},{"x":33.0,"y":1},{"x":33.4,"y":7},{"x":33.8,"y":3},{"x":34.2,"y":6},{"x":34.6,"y":2},{"x":35.0,"y":8},{"x":35.4,"y":3},{"x":35.8,"y":7},{"x":36.2,"y":2},{"x":36.6,"y":9},{"x":37.0,"y":3},{"x":37.4,"y":7},{"x":37.8,"y":2},{"x":38.2,"y":8},{"x":38.6,"y":3},{"x":39.0,"y":6},{"x":39.4,"y":1},{"x":39.8,"y":7},{"x":40.2,"y":2},{"x":40.6,"y":6},{"x":41.0,"y":3},{"x":41.4,"y":7},{"x":41.8,"y":1},{"x":42.2,"y":6},{"x":42.6,"y":2},{"x":43.0,"y":8},{"x":43.4,"y":3},{"x":43.8,"y":6},{"x":44.2,"y":1},{"x":44.6,"y":7},{"x":45.0,"y":2},{"x":45.4,"y":6},{"x":45.8,"y":3},{"x":46.2,"y":8},{"x":46.6,"y":2},{"x":47.0,"y":7},{"x":47.4,"y":1},{"x":47.8,"y":9},{"x":48.2,"y":2},{"x":48.6,"y":6},{"x":49.0,"y":3},{"x":49.4,"y":10},{"x":49.8,"y":2},{"x":50.0,"y":5}
],
"c2": [
{"x":0,"y":3},{"x":0.1,"y":40},{"x":0.2,"y":100},{"x":0.3,"y":90},{"x":0.4,"y":100},{"x":0.5,"y":70},{"x":0.6,"y":45},{"x":0.7,"y":30},{"x":0.8,"y":22},{"x":0.9,"y":35},{"x":1.0,"y":40},{"x":1.1,"y":28},{"x":1.2,"y":36},{"x":1.3,"y":22},{"x":1.4,"y":30},{"x":1.5,"y":18},{"x":1.6,"y":26},{"x":1.7,"y":15},{"x":1.8,"y":22},{"x":1.9,"y":13},{"x":2.0,"y":19},{"x":2.2,"y":11},{"x":2.4,"y":17},{"x":2.6,"y":10},{"x":2.8,"y":15},{"x":3.0,"y":8},{"x":3.2,"y":13},{"x":3.4,"y":7},{"x":3.6,"y":12},{"x":3.8,"y":6},{"x":4.0,"y":10},{"x":4.3,"y":5},{"x":4.6,"y":9},{"x":4.9,"y":4},{"x":5.2,"y":8},{"x":5.5,"y":3},{"x":5.8,"y":8},{"x":6.1,"y":3},{"x":6.4,"y":7},{"x":6.7,"y":2},{"x":7.0,"y":7},{"x":7.3,"y":2},{"x":7.6,"y":6},{"x":7.9,"y":2},{"x":8.2,"y":6},{"x":8.5,"y":1},{"x":8.8,"y":6},{"x":9.2,"y":2},{"x":9.6,"y":5},{"x":10.0,"y":1},{"x":10.4,"y":5},{"x":10.8,"y":1},{"x":11.2,"y":6},{"x":11.6,"y":2},{"x":12.0,"y":5},{"x":12.4,"y":1},{"x":12.8,"y":4},{"x":13.2,"y":2},{"x":13.6,"y":6},{"x":14.0,"y":1},{"x":14.4,"y":5},{"x":14.8,"y":2},{"x":15.2,"y":4},{"x":15.6,"y":1},{"x":16.0,"y":6},{"x":16.4,"y":2},{"x":16.8,"y":5},{"x":17.2,"y":1},{"x":17.6,"y":4},{"x":18.0,"y":2},{"x":18.4,"y":6},{"x":18.8,"y":1},{"x":19.2,"y":5},{"x":19.6,"y":2},{"x":20.0,"y":16},{"x":20.3,"y":1},{"x":20.6,"y":5},{"x":21.0,"y":2},{"x":21.4,"y":4},{"x":21.8,"y":1},{"x":22.2,"y":6},{"x":22.6,"y":2},{"x":23.0,"y":4},{"x":23.4,"y":1},{"x":23.8,"y":5},{"x":24.2,"y":2},{"x":24.6,"y":6},{"x":25.0,"y":1},{"x":25.4,"y":4},{"x":25.8,"y":2},{"x":26.2,"y":5},{"x":26.6,"y":1},{"x":27.0,"y":4},{"x":27.4,"y":2},{"x":27.8,"y":6},{"x":28.2,"y":1},{"x":28.6,"y":5},{"x":29.0,"y":2},{"x":29.4,"y":4},{"x":29.8,"y":1},{"x":30.2,"y":5},{"x":30.6,"y":2},{"x":31.0,"y":6},{"x":31.4,"y":1},{"x":31.8,"y":4},{"x":32.2,"y":2},{"x":32.6,"y":5},{"x":33.0,"y":1},{"x":33.4,"y":4},{"x":33.8,"y":2},{"x":34.2,"y":6},{"x":34.6,"y":1},{"x":35.0,"y":5},{"x":35.4,"y":2},{"x":35.8,"y":4},{"x":36.2,"y":1},{"x":36.6,"y":6},{"x":37.0,"y":2},{"x":37.4,"y":5},{"x":37.8,"y":1},{"x":38.2,"y":4},{"x":38.6,"y":2},{"x":39.0,"y":6},{"x":39.4,"y":1},{"x":39.8,"y":5},{"x":40.2,"y":2},{"x":40.6,"y":4},{"x":41.0,"y":1},{"x":41.4,"y":5},{"x":41.8,"y":2},{"x":42.2,"y":6},{"x":42.6,"y":1},{"x":43.0,"y":9},{"x":43.4,"y":2},{"x":43.8,"y":5},{"x":44.2,"y":1},{"x":44.6,"y":4},{"x":45.0,"y":2},{"x":45.4,"y":6},{"x":45.8,"y":1},{"x":46.2,"y":5},{"x":46.6,"y":2},{"x":47.0,"y":4},{"x":47.4,"y":1},{"x":47.8,"y":6},{"x":48.2,"y":2},{"x":48.6,"y":5},{"x":49.0,"y":1},{"x":49.4,"y":8},{"x":49.8,"y":2},{"x":50.0,"y":4}
],
"c3": [
{"x":0,"y":3},{"x":0.1,"y":20},{"x":0.25,"y":100},{"x":0.35,"y":60},{"x":0.45,"y":40},{"x":0.55,"y":62},{"x":0.7,"y":38},{"x":0.85,"y":55},{"x":1.0,"y":45},{"x":1.05,"y":60},{"x":1.2,"y":30},{"x":1.3,"y":42},{"x":1.45,"y":28},{"x":1.55,"y":47},{"x":1.7,"y":25},{"x":1.8,"y":33},{"x":1.95,"y":20},{"x":2.07,"y":26},{"x":2.2,"y":15},{"x":2.35,"y":24},{"x":2.5,"y":14},{"x":2.6,"y":21},{"x":2.8,"y":11},{"x":2.95,"y":17},{"x":3.1,"y":9},{"x":3.3,"y":14},{"x":3.5,"y":8},{"x":3.7,"y":12},{"x":3.9,"y":7},{"x":4.1,"y":10},{"x":4.3,"y":5},{"x":4.5,"y":9},{"x":4.7,"y":4},{"x":4.9,"y":8},{"x":5.1,"y":3},{"x":5.4,"y":7},{"x":5.7,"y":2},{"x":6.0,"y":6},{"x":6.3,"y":2},{"x":6.6,"y":5},{"x":6.9,"y":1},{"x":7.2,"y":6},{"x":7.5,"y":2},{"x":7.8,"y":5},{"x":8.1,"y":1},{"x":8.4,"y":6},{"x":8.8,"y":2},{"x":9.2,"y":5},{"x":9.6,"y":1},{"x":10.0,"y":5},{"x":10.4,"y":2},{"x":10.8,"y":5},{"x":11.2,"y":1},{"x":11.6,"y":6},{"x":12.0,"y":2},{"x":12.4,"y":4},{"x":12.8,"y":1},{"x":13.2,"y":5},{"x":13.6,"y":2},{"x":14.0,"y":6},{"x":14.4,"y":1},{"x":14.8,"y":4},{"x":15.2,"y":2},{"x":15.6,"y":5},{"x":16.0,"y":1},{"x":16.4,"y":6},{"x":16.8,"y":2},{"x":17.2,"y":5},{"x":17.6,"y":1},{"x":18.0,"y":4},{"x":18.4,"y":2},{"x":18.8,"y":6},{"x":19.2,"y":1},{"x":19.6,"y":4},{"x":20.2,"y":17},{"x":20.5,"y":2},{"x":20.8,"y":5},{"x":21.2,"y":1},{"x":21.6,"y":6},{"x":22.0,"y":2},{"x":22.4,"y":4},{"x":22.8,"y":1},{"x":23.2,"y":5},{"x":23.6,"y":2},{"x":24.0,"y":6},{"x":24.4,"y":1},{"x":24.8,"y":4},{"x":25.2,"y":2},{"x":25.6,"y":5},{"x":26.0,"y":1},{"x":26.4,"y":6},{"x":26.8,"y":2},{"x":27.2,"y":9},{"x":27.6,"y":1},{"x":28.0,"y":5},{"x":28.4,"y":2},{"x":28.8,"y":6},{"x":29.2,"y":1},{"x":29.6,"y":4},{"x":30.0,"y":2},{"x":30.4,"y":5},{"x":30.8,"y":1},{"x":31.2,"y":6},{"x":31.6,"y":2},{"x":32.0,"y":4},{"x":32.4,"y":1},{"x":32.8,"y":5},{"x":33.2,"y":2},{"x":33.6,"y":6},{"x":34.0,"y":1},{"x":34.4,"y":4},{"x":34.8,"y":2},{"x":35.2,"y":5},{"x":35.6,"y":1},{"x":36.0,"y":6},{"x":36.4,"y":2},{"x":36.8,"y":4},{"x":37.2,"y":1},{"x":37.6,"y":5},{"x":38.0,"y":2},{"x":38.4,"y":6},{"x":38.8,"y":1},{"x":39.2,"y":4},{"x":39.6,"y":2},{"x":40.0,"y":5},{"x":40.4,"y":1},{"x":40.8,"y":9},{"x":41.2,"y":2},{"x":41.6,"y":5},{"x":42.0,"y":1},{"x":42.4,"y":6},{"x":42.8,"y":2},{"x":43.2,"y":4},{"x":43.6,"y":1},{"x":44.0,"y":5},{"x":44.4,"y":2},{"x":44.8,"y":6},{"x":45.2,"y":1},{"x":45.6,"y":4},{"x":46.0,"y":2},{"x":46.4,"y":5},{"x":46.8,"y":1},{"x":47.2,"y":6},{"x":47.6,"y":2},{"x":48.0,"y":4},{"x":48.4,"y":1},{"x":48.8,"y":5},{"x":49.2,"y":2},{"x":49.6,"y":6},{"x":50.0,"y":3}
],
"inset": [
{"x":0.08,"y":100},{"x":0.105,"y":50},{"x":0.128,"y":5},{"x":0.168,"y":30},{"x":0.195,"y":28},{"x":0.248,"y":18},{"x":0.275,"y":23},{"x":0.3,"y":20},{"x":0.328,"y":23},{"x":0.35,"y":20.5},{"x":0.38,"y":3},{"x":0.41,"y":9.6},{"x":0.435,"y":3},{"x":0.467,"y":15},{"x":0.5,"y":18},{"x":0.535,"y":16},{"x":0.568,"y":5},{"x":0.608,"y":4},{"x":0.648,"y":6.5},{"x":0.688,"y":3},{"x":0.728,"y":6.5},{"x":0.768,"y":12},{"x":0.795,"y":14},{"x":0.835,"y":5},{"x":0.875,"y":2},{"x":0.928,"y":4},{"x":0.968,"y":12},{"x":1.0,"y":8}
],
"iaxes": [{"x":0,"y":0,"x2":1,"y2":0},{"x":0,"y":0,"x2":0,"y2":100}],
"ibox": [{"x":-0.174,"x2":1.034,"y":-34,"y2":104.8}],
"iarrow": [{"x":0.323,"y":55,"x2":0.249,"y2":34}],
"itext": [{"k":"note","x":0.634,"y":65.5,"s":"Low frequency\nnoise"},{"k":"xt","x":0.5,"y":-27.5,"s":"Frequency (Hz)"},{"k":"yt","x":-0.062,"y":51,"s":"Intensity (a.u.)"}],
"caption": [
{"line":1,"k":"b","pos":0,"s":"FIGURE 6 |"},{"line":1,"k":"r","pos":0.0743,"s":"Frequency spectrum analysis on GCaMP6f responses from colorectal afferents evoked by mechanical colorectal distension and mucosal shearing."},
{"line":2,"k":"b","pos":0,"s":"(A)"},{"line":2,"k":"r","pos":0.0229,"s":"The implemented mechanical colorectal distension and luminal shear flow, respectively."},{"line":2,"k":"b","pos":0.5605,"s":"(B)"},{"line":2,"k":"r","pos":0.5838,"s":"Evoked GCaMP6f signals in individual DRG neurons."},{"line":2,"k":"b","pos":0.9175,"s":"(C)"},{"line":2,"k":"r","pos":0.9408,"s":"The"},
{"line":3,"k":"r","pos":0,"s":"frequency domain of the GCaMP6f transients from fast Fourier transform."},{"line":3,"k":"b","pos":0.4474,"s":"(D)"},{"line":3,"k":"r","pos":0.4707,"s":"Band-pass filtered GCaMP6f signals."}
]
},
"concat": [
    {"width": 322, "height": 95, "layer": [
     {"data": {"name": "frame"}, "mark": {"type": "rect", "fillOpacity": 0, "stroke": "#7f7f7f", "strokeWidth": 1.5}, "encoding": {"x": {"field": "x", "type": "quantitative", "scale": {"domain": [0, 25], "nice": false, "zero": false}, "axis": null}, "x2": {"field": "x2"}, "y": {"field": "y", "type": "quantitative", "scale": {"domain": [23, 118], "nice": false, "zero": false}, "axis": null}, "y2": {"field": "y2"}}},
     {"data": {"name": "stim"}, "transform": [{"filter": "datum.p==='A1'"}], "mark": {"type": "line", "interpolate": "step-after", "strokeWidth": 2, "color": "black"}, "encoding": {"x": {"field": "x", "type": "quantitative", "axis": null}, "y": {"field": "y", "type": "quantitative", "axis": null}}},
     {"data": {"name": "notes"}, "transform": [{"filter": "datum.p==='A1' && datum.k==='head'"}], "mark": {"type": "text", "align": "left", "baseline": "middle", "fontSize": 17, "fontWeight": "bold"}, "encoding": {"x": {"field": "x", "type": "quantitative", "axis": null}, "y": {"field": "y", "type": "quantitative", "axis": null}, "text": {"field": "s"}}},
     {"data": {"name": "notes"}, "transform": [{"filter": "datum.p==='A1' && datum.k==='headc'"}], "mark": {"type": "text", "align": "center", "baseline": "middle", "fontSize": 17, "fontWeight": "bold"}, "encoding": {"x": {"field": "x", "type": "quantitative", "axis": null}, "y": {"field": "y", "type": "quantitative", "axis": null}, "text": {"field": "s"}}},
     {"data": {"name": "notes"}, "transform": [{"filter": "datum.p==='A1' && datum.k==='step'"}], "mark": {"type": "text", "align": "center", "baseline": "middle", "fontSize": 17, "fontWeight": "bold"}, "encoding": {"x": {"field": "x", "type": "quantitative", "axis": null}, "y": {"field": "y", "type": "quantitative", "axis": null}, "text": {"field": "s"}}}
    ]},
    {"width": 322, "height": 95, "layer": [
     {"data": {"name": "stim"}, "transform": [{"filter": "datum.p==='A2'"}], "mark": {"type": "line", "interpolate": "step-after", "strokeWidth": 2, "color": "black"}, "encoding": {"x": {"field": "x", "type": "quantitative", "scale": {"domain": [0, 25], "nice": false, "zero": false}, "axis": null}, "y": {"field": "y", "type": "quantitative", "scale": {"domain": [23, 118], "nice": false, "zero": false}, "axis": null}}},
     {"data": {"name": "notes"}, "transform": [{"filter": "datum.p==='A2' && datum.k==='headc'"}], "mark": {"type": "text", "align": "center", "baseline": "middle", "fontSize": 17, "fontWeight": "bold"}, "encoding": {"x": {"field": "x", "type": "quantitative", "axis": null}, "y": {"field": "y", "type": "quantitative", "axis": null}, "text": {"field": "s"}}},
     {"data": {"name": "notes"}, "transform": [{"filter": "datum.p==='A2' && datum.k==='step'"}], "mark": {"type": "text", "align": "center", "baseline": "middle", "fontSize": 17, "fontWeight": "bold"}, "encoding": {"x": {"field": "x", "type": "quantitative", "axis": null}, "y": {"field": "y", "type": "quantitative", "axis": null}, "text": {"field": "s"}}}
    ]},
    {"width": 322, "height": 95, "layer": [
     {"data": {"name": "stim"}, "transform": [{"filter": "datum.p==='A3'"}], "mark": {"type": "line", "interpolate": "step-after", "strokeWidth": 2, "color": "black"}, "encoding": {"x": {"field": "x", "type": "quantitative", "scale": {"domain": [0, 25], "nice": false, "zero": false}, "axis": null}, "y": {"field": "y", "type": "quantitative", "scale": {"domain": [23, 118], "nice": false, "zero": false}, "axis": null}}},
     {"data": {"name": "notes"}, "transform": [{"filter": "datum.p==='A3' && datum.k==='headc'"}], "mark": {"type": "text", "align": "center", "baseline": "middle", "fontSize": 17, "fontWeight": "bold"}, "encoding": {"x": {"field": "x", "type": "quantitative", "axis": null}, "y": {"field": "y", "type": "quantitative", "axis": null}, "text": {"field": "s"}}},
     {"data": {"name": "notes"}, "transform": [{"filter": "datum.p==='A3' && datum.k==='step'"}], "mark": {"type": "text", "align": "center", "baseline": "middle", "fontSize": 16, "fontWeight": "bold"}, "encoding": {"x": {"field": "x", "type": "quantitative", "axis": null}, "y": {"field": "y", "type": "quantitative", "axis": null}, "text": {"field": "s"}}}
    ]},
      {"width": 322, "height": 129, "layer": [
       {"data": {"name": "b1"}, "mark": {"type": "line", "strokeWidth": 1.5, "color": "black"}, "encoding": {"x": {"field": "x", "type": "quantitative", "scale": {"domain": [0, 25], "nice": false, "zero": false}, "axis": {"values": [0, 5, 10, 15, 20, 25], "title": "Time (s)"}}, "y": {"field": "y", "type": "quantitative", "scale": {"domain": [0, 100], "nice": false}, "axis": {"title": "Intensity (a.u.)", "labels": false, "ticks": false, "tickSize": 0, "titleFontWeight": "normal", "titleFontSize": 13.5, "titleColor": "#444444", "titlePadding": 4}}}},
       {"data": {"name": "bars"}, "transform": [{"filter": "datum.p==='B1'"}], "mark": {"type": "rule", "strokeWidth": 2.5, "color": "black"}, "encoding": {"x": {"field": "x", "type": "quantitative"}, "y": {"field": "y", "type": "quantitative"}, "y2": {"field": "y2"}}},
       {"data": {"name": "notes"}, "transform": [{"filter": "datum.p==='B1' && datum.k==='head'"}], "mark": {"type": "text", "align": "left", "baseline": "middle", "fontSize": 17, "fontWeight": "bold"}, "encoding": {"x": {"field": "x", "type": "quantitative"}, "y": {"field": "y", "type": "quantitative"}, "text": {"field": "s"}}},
       {"data": {"name": "notes"}, "transform": [{"filter": "datum.p==='B1' && datum.k==='scale'"}], "mark": {"type": "text", "align": "left", "baseline": "middle", "fontSize": 12.5, "fontWeight": "bold"}, "encoding": {"x": {"field": "x", "type": "quantitative"}, "y": {"field": "y", "type": "quantitative"}, "text": {"field": "s"}}}
      ]},
      {"width": 322, "height": 129, "layer": [
       {"data": {"name": "b2"}, "mark": {"type": "line", "strokeWidth": 1.5, "color": "black"}, "encoding": {"x": {"field": "x", "type": "quantitative", "scale": {"domain": [0, 25], "nice": false, "zero": false}, "axis": {"values": [0, 5, 10, 15, 20, 25], "title": "Time (s)"}}, "y": {"field": "y", "type": "quantitative", "scale": {"domain": [0, 100], "nice": false}, "axis": {"title": "Intensity (a.u.)", "labels": false, "ticks": false, "tickSize": 0, "titleFontWeight": "normal", "titleFontSize": 13.5, "titleColor": "#444444", "titlePadding": 4}}}},
       {"data": {"name": "bars"}, "transform": [{"filter": "datum.p==='B2'"}], "mark": {"type": "rule", "strokeWidth": 2.5, "color": "black"}, "encoding": {"x": {"field": "x", "type": "quantitative"}, "y": {"field": "y", "type": "quantitative"}, "y2": {"field": "y2"}}},
       {"data": {"name": "notes"}, "transform": [{"filter": "datum.p==='B2' && datum.k==='scale'"}], "mark": {"type": "text", "align": "left", "baseline": "middle", "fontSize": 12.5, "fontWeight": "bold"}, "encoding": {"x": {"field": "x", "type": "quantitative"}, "y": {"field": "y", "type": "quantitative"}, "text": {"field": "s"}}}
      ]},
      {"width": 322, "height": 129, "layer": [
       {"data": {"name": "b3"}, "mark": {"type": "line", "strokeWidth": 1.5, "color": "black"}, "encoding": {"x": {"field": "x", "type": "quantitative", "scale": {"domain": [0, 25], "nice": false, "zero": false}, "axis": {"values": [0, 5, 10, 15, 20, 25], "title": "Time (s)"}}, "y": {"field": "y", "type": "quantitative", "scale": {"domain": [0, 100], "nice": false}, "axis": {"title": "Intensity (a.u.)", "labels": false, "ticks": false, "tickSize": 0, "titleFontWeight": "normal", "titleFontSize": 13.5, "titleColor": "#444444", "titlePadding": 4}}}},
       {"data": {"name": "bars"}, "transform": [{"filter": "datum.p==='B3'"}], "mark": {"type": "rule", "strokeWidth": 2.5, "color": "black"}, "encoding": {"x": {"field": "x", "type": "quantitative"}, "y": {"field": "y", "type": "quantitative"}, "y2": {"field": "y2"}}},
       {"data": {"name": "notes"}, "transform": [{"filter": "datum.p==='B3' && datum.k==='scale'"}], "mark": {"type": "text", "align": "left", "baseline": "middle", "fontSize": 12.5, "fontWeight": "bold"}, "encoding": {"x": {"field": "x", "type": "quantitative"}, "y": {"field": "y", "type": "quantitative"}, "text": {"field": "s"}}}
      ]},
      {"width": 322, "height": 131, "layer": [
       {"data": {"name": "c1"}, "mark": {"type": "line", "strokeWidth": 1.5, "color": "black"}, "encoding": {"x": {"field": "x", "type": "quantitative", "scale": {"domain": [0, 50], "nice": false, "zero": false}, "axis": {"values": [0, 10, 20, 30, 40, 50], "title": "Frequency (Hz)"}}, "y": {"field": "y", "type": "quantitative", "scale": {"domain": [0, 100], "nice": false}, "axis": {"title": "Intensity (a.u.)", "labels": false, "ticks": false, "tickSize": 0, "titleFontWeight": "normal", "titleFontSize": 13.5, "titleColor": "#444444", "titlePadding": 4}}}},
       {"data": {"name": "notes"}, "transform": [{"filter": "datum.p==='C1' && datum.k==='head'"}], "mark": {"type": "text", "align": "left", "baseline": "middle", "fontSize": 17, "fontWeight": "bold"}, "encoding": {"x": {"field": "x", "type": "quantitative"}, "y": {"field": "y", "type": "quantitative"}, "text": {"field": "s"}}}
      ]},
      {"width": 322, "height": 131, "layer": [
       {"data": {"name": "c2"}, "mark": {"type": "line", "strokeWidth": 1.5, "color": "black"}, "encoding": {"x": {"field": "x", "type": "quantitative", "scale": {"domain": [0, 50], "nice": false, "zero": false}, "axis": {"values": [0, 10, 20, 30, 40, 50], "title": "Frequency (Hz)"}}, "y": {"field": "y", "type": "quantitative", "scale": {"domain": [0, 100], "nice": false}, "axis": {"title": "Intensity (a.u.)", "labels": false, "ticks": false, "tickSize": 0, "titleFontWeight": "normal", "titleFontSize": 13.5, "titleColor": "#444444", "titlePadding": 4}}}}
      ]},
      {"width": 322, "height": 131,
       "resolve": {"scale": {"x": "independent", "y": "independent"}, "axis": {"x": "independent", "y": "independent"}},
       "layer": [
       {"data": {"name": "c3"}, "mark": {"type": "line", "strokeWidth": 1.5, "color": "black"}, "encoding": {"x": {"field": "x", "type": "quantitative", "scale": {"domain": [0, 50], "nice": false, "zero": false}, "axis": {"values": [0, 10, 20, 30, 40, 50], "title": "Frequency (Hz)"}}, "y": {"field": "y", "type": "quantitative", "scale": {"domain": [0, 100], "nice": false}, "axis": {"title": "Intensity (a.u.)", "labels": false, "ticks": false, "tickSize": 0, "titleFontWeight": "normal", "titleFontSize": 13.5, "titleColor": "#444444", "titlePadding": 4}}}},
       {"layer": [
         {"data": {"name": "ibox"}, "mark": {"type": "rect", "fillOpacity": 0, "stroke": "#222222", "strokeWidth": 1.5, "strokeDash": [5, 3]}, "encoding": {"x": {"field": "x", "type": "quantitative", "scale": {"domain": [-0.3576, 2.2184], "nice": false, "zero": false}}, "x2": {"field": "x2"}, "y": {"field": "y", "type": "quantitative", "scale": {"domain": [-81.26, 90.43], "nice": false, "zero": false}, "axis": null}, "y2": {"field": "y2"}}},
         {"data": {"name": "iaxes"}, "mark": {"type": "rule", "strokeWidth": 1.3, "color": "#555555"}, "encoding": {"x": {"field": "x", "type": "quantitative", "scale": {"domain": [-0.3576, 2.2184], "nice": false, "zero": false}}, "x2": {"field": "x2"}, "y": {"field": "y", "type": "quantitative", "scale": {"domain": [-81.26, 90.43], "nice": false, "zero": false}, "axis": null}, "y2": {"field": "y2"}}},
         {"data": {"name": "inset"}, "mark": {"type": "line", "strokeWidth": 1.5, "color": "black"}, "encoding": {"x": {"field": "x", "type": "quantitative", "scale": {"domain": [-0.3576, 2.2184], "nice": false, "zero": false}, "axis": {"orient": "bottom", "offset": -62, "values": [0, 0.5, 1], "format": "~g", "domain": false, "ticks": false, "labelFontSize": 10, "labelColor": "#555555", "labelPadding": 3, "title": null}}, "y": {"field": "y", "type": "quantitative", "scale": {"domain": [-81.26, 90.43], "nice": false, "zero": false}, "axis": null}}},
         {"data": {"name": "itext"}, "transform": [{"filter": "datum.k==='note'"}], "mark": {"type": "text", "align": "center", "baseline": "middle", "fontSize": 13.5, "fontWeight": "bold", "lineBreak": "\n", "lineHeight": 16}, "encoding": {"x": {"field": "x", "type": "quantitative"}, "y": {"field": "y", "type": "quantitative", "axis": null}, "text": {"field": "s"}}},
         {"data": {"name": "itext"}, "transform": [{"filter": "datum.k==='xt'"}], "mark": {"type": "text", "align": "center", "baseline": "middle", "fontSize": 10.5, "fontWeight": "bold", "color": "#444444"}, "encoding": {"x": {"field": "x", "type": "quantitative"}, "y": {"field": "y", "type": "quantitative", "axis": null}, "text": {"field": "s"}}},
         {"data": {"name": "itext"}, "transform": [{"filter": "datum.k==='yt'"}], "mark": {"type": "text", "align": "center", "baseline": "middle", "fontSize": 10, "angle": 270, "color": "#444444"}, "encoding": {"x": {"field": "x", "type": "quantitative"}, "y": {"field": "y", "type": "quantitative", "axis": null}, "text": {"field": "s"}}},
         {"data": {"name": "iarrow"}, "mark": {"type": "rule", "strokeWidth": 1.5, "color": "black"}, "encoding": {"x": {"field": "x", "type": "quantitative"}, "x2": {"field": "x2"}, "y": {"field": "y", "type": "quantitative", "axis": null}, "y2": {"field": "y2"}}},
         {"data": {"name": "iarrow"}, "mark": {"type": "point", "shape": "triangle-up", "filled": true, "size": 45, "angle": 210, "color": "black", "opacity": 1}, "encoding": {"x": {"field": "x2", "type": "quantitative"}, "y": {"field": "y2", "type": "quantitative", "axis": null}}}
       ]}
      ]},
      {"width": 322, "height": 128, "layer": [
       {"data": {"name": "d1"}, "mark": {"type": "line", "strokeWidth": 1.3, "color": "black"}, "encoding": {"x": {"field": "x", "type": "quantitative", "scale": {"domain": [0, 25], "nice": false, "zero": false}, "axis": {"values": [0, 5, 10, 15, 20, 25], "title": "Time (s)"}}, "y": {"field": "y", "type": "quantitative", "scale": {"domain": [0, 100], "nice": false}, "axis": {"title": "Intensity (a.u.)", "labels": false, "ticks": false, "tickSize": 0, "titleFontWeight": "normal", "titleFontSize": 13.5, "titleColor": "#444444", "titlePadding": 4}}}},
       {"data": {"name": "bars"}, "transform": [{"filter": "datum.p==='D1'"}], "mark": {"type": "rule", "strokeWidth": 2.5, "color": "black"}, "encoding": {"x": {"field": "x", "type": "quantitative"}, "y": {"field": "y", "type": "quantitative"}, "y2": {"field": "y2"}}},
       {"data": {"name": "notes"}, "transform": [{"filter": "datum.p==='D1' && datum.k==='head'"}], "mark": {"type": "text", "align": "left", "baseline": "middle", "fontSize": 17, "fontWeight": "bold"}, "encoding": {"x": {"field": "x", "type": "quantitative"}, "y": {"field": "y", "type": "quantitative"}, "text": {"field": "s"}}},
       {"data": {"name": "notes"}, "transform": [{"filter": "datum.p==='D1' && datum.k==='scale'"}], "mark": {"type": "text", "align": "left", "baseline": "middle", "fontSize": 12.5, "fontWeight": "bold"}, "encoding": {"x": {"field": "x", "type": "quantitative"}, "y": {"field": "y", "type": "quantitative"}, "text": {"field": "s"}}},
       {"data": {"name": "notes"}, "transform": [{"filter": "datum.p==='D1' && datum.k==='band'"}], "mark": {"type": "text", "align": "center", "baseline": "middle", "fontSize": 13, "fontWeight": "bold"}, "encoding": {"x": {"field": "x", "type": "quantitative"}, "y": {"field": "y", "type": "quantitative"}, "text": {"field": "s"}}}
      ]},
      {"width": 322, "height": 128, "layer": [
       {"data": {"name": "d2"}, "mark": {"type": "line", "strokeWidth": 1.3, "color": "black"}, "encoding": {"x": {"field": "x", "type": "quantitative", "scale": {"domain": [0, 25], "nice": false, "zero": false}, "axis": {"values": [0, 5, 10, 15, 20, 25], "title": "Time (s)"}}, "y": {"field": "y", "type": "quantitative", "scale": {"domain": [0, 100], "nice": false}, "axis": {"title": "Intensity (a.u.)", "labels": false, "ticks": false, "tickSize": 0, "titleFontWeight": "normal", "titleFontSize": 13.5, "titleColor": "#444444", "titlePadding": 4}}}},
       {"data": {"name": "bars"}, "transform": [{"filter": "datum.p==='D2'"}], "mark": {"type": "rule", "strokeWidth": 2.5, "color": "black"}, "encoding": {"x": {"field": "x", "type": "quantitative"}, "y": {"field": "y", "type": "quantitative"}, "y2": {"field": "y2"}}},
       {"data": {"name": "notes"}, "transform": [{"filter": "datum.p==='D2' && datum.k==='scale'"}], "mark": {"type": "text", "align": "left", "baseline": "middle", "fontSize": 12.5, "fontWeight": "bold"}, "encoding": {"x": {"field": "x", "type": "quantitative"}, "y": {"field": "y", "type": "quantitative"}, "text": {"field": "s"}}},
       {"data": {"name": "notes"}, "transform": [{"filter": "datum.p==='D2' && datum.k==='band'"}], "mark": {"type": "text", "align": "center", "baseline": "middle", "fontSize": 13, "fontWeight": "bold"}, "encoding": {"x": {"field": "x", "type": "quantitative"}, "y": {"field": "y", "type": "quantitative"}, "text": {"field": "s"}}}
      ]},
      {"width": 322, "height": 128, "layer": [
       {"data": {"name": "d3"}, "mark": {"type": "line", "strokeWidth": 1.3, "color": "black"}, "encoding": {"x": {"field": "x", "type": "quantitative", "scale": {"domain": [0, 25], "nice": false, "zero": false}, "axis": {"values": [0, 5, 10, 15, 20, 25], "title": "Time (s)"}}, "y": {"field": "y", "type": "quantitative", "scale": {"domain": [0, 100], "nice": false}, "axis": {"title": "Intensity (a.u.)", "labels": false, "ticks": false, "tickSize": 0, "titleFontWeight": "normal", "titleFontSize": 13.5, "titleColor": "#444444", "titlePadding": 4}}}},
       {"data": {"name": "bars"}, "transform": [{"filter": "datum.p==='D3'"}], "mark": {"type": "rule", "strokeWidth": 2.5, "color": "black"}, "encoding": {"x": {"field": "x", "type": "quantitative"}, "y": {"field": "y", "type": "quantitative"}, "y2": {"field": "y2"}}},
       {"data": {"name": "notes"}, "transform": [{"filter": "datum.p==='D3' && datum.k==='scale'"}], "mark": {"type": "text", "align": "left", "baseline": "middle", "fontSize": 12.5, "fontWeight": "bold"}, "encoding": {"x": {"field": "x", "type": "quantitative"}, "y": {"field": "y", "type": "quantitative"}, "text": {"field": "s"}}},
       {"data": {"name": "notes"}, "transform": [{"filter": "datum.p==='D3' && datum.k==='band'"}], "mark": {"type": "text", "align": "center", "baseline": "middle", "fontSize": 13, "fontWeight": "bold"}, "encoding": {"x": {"field": "x", "type": "quantitative"}, "y": {"field": "y", "type": "quantitative"}, "text": {"field": "s"}}}
      ]},
  {"width": 322, "height": 40, "data": {"name": "caption"}, "layer": [
   {"transform": [{"filter": "datum.k==='b'"}], "mark": {"type": "text", "align": "left", "baseline": "middle", "fontSize": 18, "fontWeight": "bold", "color": "#111111"}, "encoding": {"x": {"field": "pos", "type": "quantitative", "scale": {"domain": [0.106, 0.35143], "nice": false, "zero": false}, "axis": null}, "y": {"field": "line", "type": "quantitative", "scale": {"domain": [1.465, 3.325], "reverse": true, "nice": false, "zero": false}, "axis": null}, "text": {"field": "s"}}},
   {"transform": [{"filter": "datum.k==='r'"}], "mark": {"type": "text", "align": "left", "baseline": "middle", "fontSize": 18, "color": "#222222"}, "encoding": {"x": {"field": "pos", "type": "quantitative", "axis": null}, "y": {"field": "line", "type": "quantitative", "axis": null}, "text": {"field": "s"}}}
  ]}
]
}
